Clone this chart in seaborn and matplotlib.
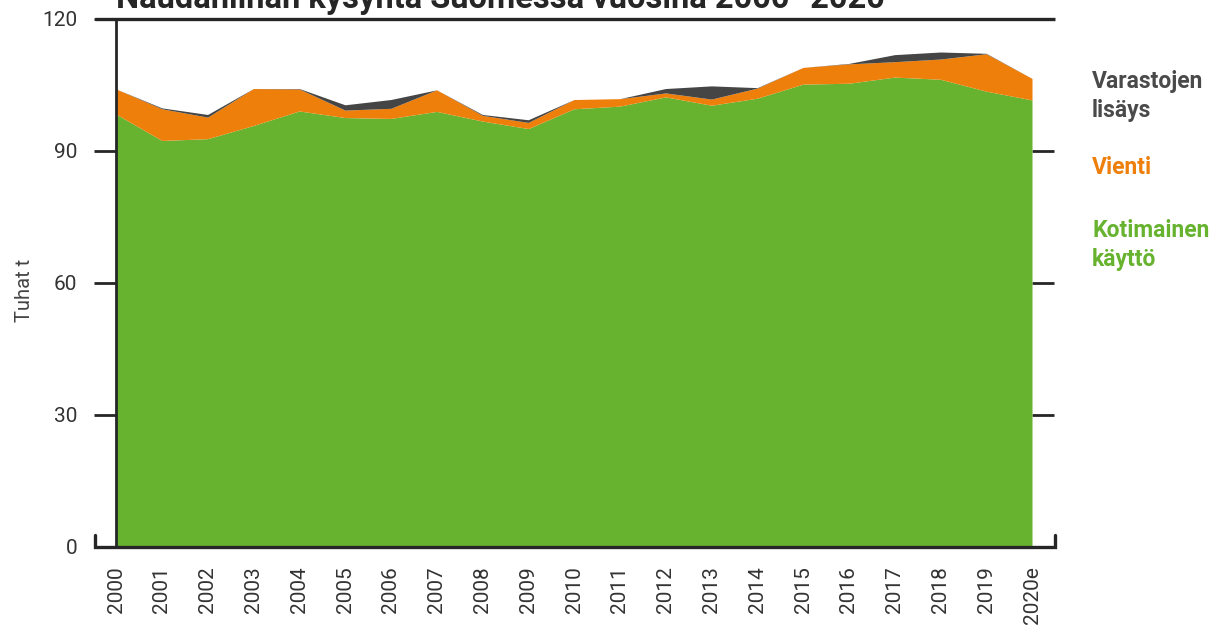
import pandas as pd
import numpy as np
import matplotlib.pyplot as plt
import seaborn as sns

# Naudanlihan kysyntä, tuhat tonnia (luettu kuvasta)
years = [2000, 2001, 2002, 2003, 2004, 2005, 2006, 2007, 2008, 2009, 2010,
         2011, 2012, 2013, 2014, 2015, 2016, 2017, 2018, 2019, 2020]
year_labels = [str(y) for y in years[:-1]] + ["2020e"]
kotimainen = [98.4, 92.4, 92.8, 95.8, 99.1, 97.6, 97.4, 99.0, 96.8, 95.1, 99.6,
              100.2, 102.3, 100.4, 102.0, 105.2, 105.4, 106.8, 106.3, 103.6, 101.6]
vienti = [5.7, 7.2, 4.9, 8.4, 5.0, 1.7, 2.3, 4.9, 1.3, 1.4, 2.1,
          1.7, 0.9, 1.4, 2.3, 3.8, 4.4, 3.5, 4.6, 8.5, 4.9]
varastot = [0.0, 0.2, 0.6, 0.0, 0.1, 1.2, 2.0, 0.0, 0.2, 0.6, 0.0,
            0.0, 1.0, 3.0, 0.1, 0.0, 0.1, 1.6, 1.6, 0.1, 0.0]
yticks = [0, 30, 60, 90, 120]

df = pd.DataFrame({"Vuosi": years, "Kotimainen käyttö": kotimainen,
                   "Vienti": vienti, "Varastojen lisäys": varastot})

green = "#67b32f"
orange = "#ee7f0b"
grey = "#454545"
ink = "#262626"

sns.set_style("white")
plt.rcParams['font.family'] = ['Roboto', 'DejaVu Sans']

fig = plt.figure(figsize=(12.18, 6.29), dpi=100)
ax = fig.add_axes([116/1218, 1 - 547/629, (1032-116)/1218, (547-19)/629])

ax.stackplot(df["Vuosi"], df["Kotimainen käyttö"], df["Vienti"], df["Varastojen lisäys"],
             colors=[green, orange, grey], linewidth=0)

ax.set_xlim(2000, 2020)
ax.set_ylim(0, 120)
ax.set_yticks(yticks)
ax.set_xticks(years)
ax.set_xticklabels(year_labels, rotation=90, fontsize=15, color="#333333")
ax.tick_params(axis="x", length=0, pad=14)
ax.tick_params(axis="y", which="both", left=True, right=True, labelright=False,
               length=16, width=2, color=ink, direction="out", pad=12,
               labelsize=15, labelcolor="#333333")
for s in ["top", "right", "bottom"]:
    ax.spines[s].set_visible(False)
ax.spines["left"].set_color(ink)
ax.spines["left"].set_linewidth(2)

# ylä- ja alaviiva yli koko alueen
tr = ax.get_yaxis_transform()
ax.plot([-0.023, 1.025], [120, 120], transform=tr, color=ink, lw=2.4,
        clip_on=False, solid_capstyle="butt")
ax.plot([-0.023, -0.023, 1.025, 1.025], [2.8, 0, 0, 2.8], transform=tr, color=ink,
        lw=2.4, clip_on=False, solid_joinstyle="miter")

fig.text(24/1218, 1 - 290/629, "Tuhat t", fontsize=14.5, color="#444444",
         rotation=90, ha="center", va="center")

fig.text(116/1218, 1 - 8/629, "Naudanlihan kysyntä Suomessa vuosina 2000–2020",
         fontsize=23.5, fontweight="bold", color=ink, ha="left", va="baseline")

lx = 1092/1218
fig.text(lx, 1 - 96/629, "Varastojen\nlisäys", fontsize=16.5, fontweight="bold",
         color="#4a4a4a", va="center", linespacing=1.3)
fig.text(lx, 1 - 168/629, "Vienti", fontsize=16.5, fontweight="bold",
         color=orange, va="center")
fig.text(lx, 1 - 245/629, "Kotimainen\nkäyttö", fontsize=16.5, fontweight="bold",
         color=green, va="center", linespacing=1.3)

fig.savefig("out.png", dpi=100)
